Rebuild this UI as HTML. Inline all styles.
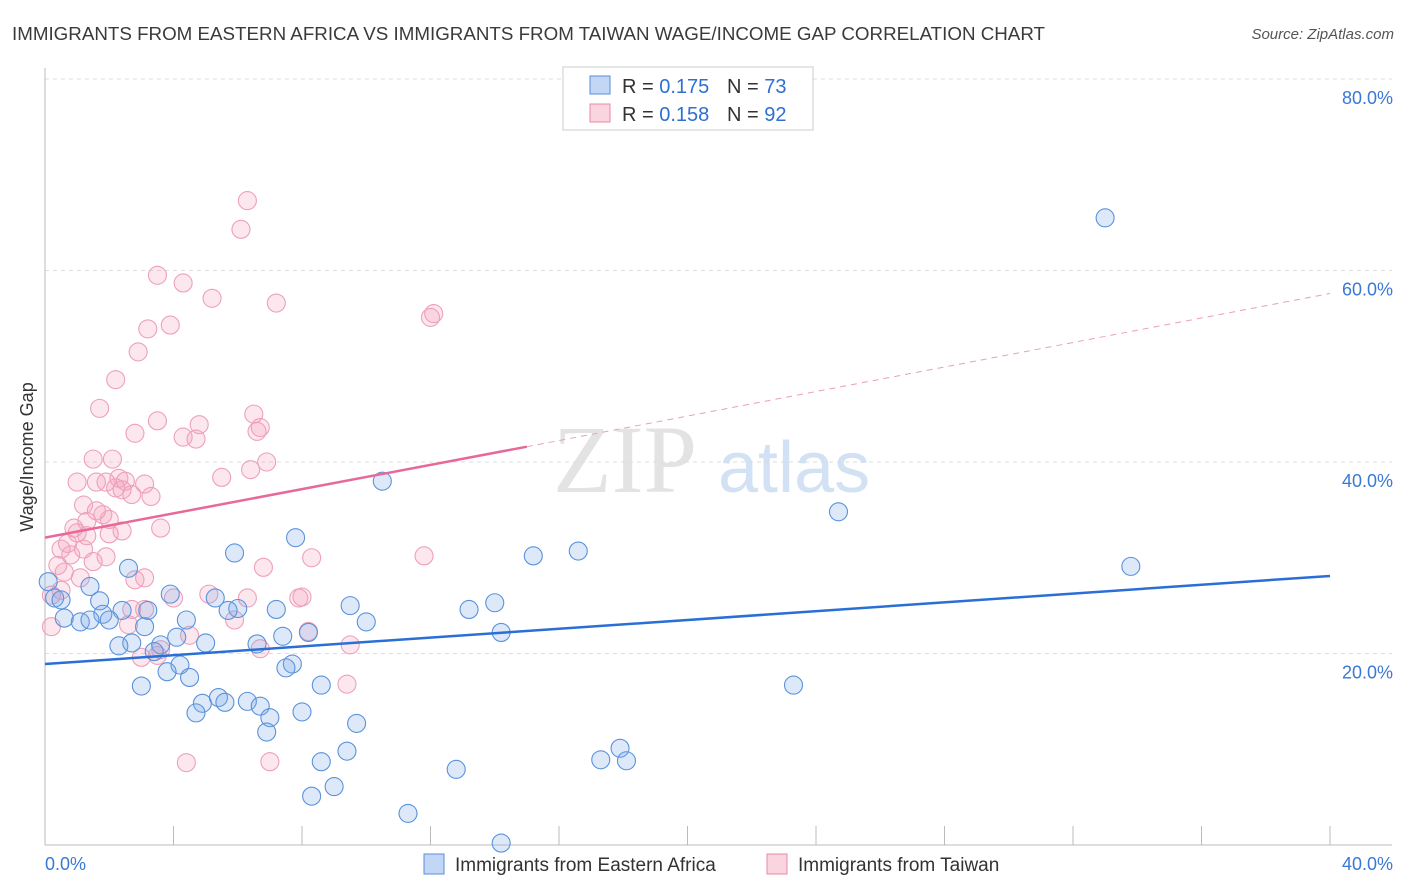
<!DOCTYPE html>
<html><head><meta charset="utf-8">
<style>
body{margin:0;background:#fff;font-family:"Liberation Sans",sans-serif;}
svg{display:block}
</style></head>
<body>
<svg id="chart" width="1406" height="892" xmlns="http://www.w3.org/2000/svg">
<text x="12" y="40" font-size="18" fill="#3a3a3a" textLength="1033" lengthAdjust="spacingAndGlyphs">IMMIGRANTS FROM EASTERN AFRICA VS IMMIGRANTS FROM TAIWAN WAGE/INCOME GAP CORRELATION CHART</text>
<text x="1394" y="39" font-size="15" fill="#555" text-anchor="end" font-style="italic">Source: ZipAtlas.com</text>
<g id="grid"></g>
<text x="553" y="492" font-size="96" fill="#ddd" font-family="Liberation Serif" opacity="0.8">ZIP</text>
<text x="718" y="492" font-size="72" fill="#c9daf2" opacity="0.8">atlas</text>
<g id="marks"></g>
<text transform="translate(33,457) rotate(-90)" font-size="18" fill="#333" text-anchor="middle">Wage/Income Gap</text>
<g>
<rect x="563" y="67" width="250" height="63" fill="#fff" stroke="#ccc"/>
<rect x="590" y="76" width="20" height="18" fill="rgba(120,165,235,0.45)" stroke="#5a8fd8"/>
<text x="622" y="93" font-size="20" fill="#333">R = <tspan fill="#2f6fd1">0.175</tspan></text>
<text x="727" y="93" font-size="20" fill="#333">N = <tspan fill="#2f6fd1">73</tspan></text>
<rect x="590" y="104" width="20" height="18" fill="rgba(245,160,185,0.45)" stroke="#e98aa8"/>
<text x="622" y="121" font-size="20" fill="#333">R = <tspan fill="#2f6fd1">0.158</tspan></text>
<text x="727" y="121" font-size="20" fill="#333">N = <tspan fill="#2f6fd1">92</tspan></text>
</g>
<g>
<rect x="424" y="854" width="20" height="20" fill="rgba(120,165,235,0.45)" stroke="#5a8fd8"/>
<text x="455" y="871" font-size="19" fill="#333">Immigrants from Eastern Africa</text>
<rect x="767" y="854" width="20" height="20" fill="rgba(245,160,185,0.45)" stroke="#e98aa8"/>
<text x="798" y="871" font-size="19" fill="#333">Immigrants from Taiwan</text>
</g>
</svg>
<script>
const xTicks=[0,40];
const yTicks=[20,40,60,80];
const blueX=[33.0,24.7,33.8,10.5,16.6,15.2,7.8,5.9,2.6,1.4,0.1,0.3,0.5,1.7,3.9,5.3,6.0,5.7,7.2,9.5,10.0,13.2,14.0,14.2,3.2,2.4,1.8,0.6,1.1,1.4,2.0,3.1,4.4,4.1,2.7,2.3,3.6,3.4,5.0,7.4,6.6,8.2,4.2,3.8,4.5,3.0,7.7,7.5,8.6,23.3,4.9,5.4,5.6,6.3,6.7,4.7,7.0,8.0,9.7,6.9,9.4,8.6,12.8,17.3,17.9,18.1,9.0,8.3,11.3,14.2];
const blueY=[65.5,34.8,29.1,38.0,30.7,30.2,32.1,30.5,28.9,27.0,27.5,25.8,25.6,25.5,26.2,25.8,24.7,24.5,24.6,25.0,23.3,24.6,25.3,22.2,24.5,24.5,24.1,23.7,23.3,23.5,23.5,22.8,23.5,21.7,21.1,20.8,20.9,20.2,21.1,21.8,21.0,22.2,18.8,18.1,17.5,16.6,18.9,18.5,16.7,16.7,14.8,15.4,14.9,15.0,14.5,13.8,13.3,13.9,12.7,11.8,9.8,8.7,7.9,8.9,10.1,8.8,6.1,5.1,3.3,0.2];
const pinkX=[6.3,6.1,3.5,4.3,5.2,7.2,12.1,12.0,3.9,3.2,2.9,2.2,1.7,3.5,6.5,4.8,6.7,6.6,2.8,4.3,4.7,1.5,2.1,6.9,6.4,5.5,1.0,1.6,1.9,2.3,2.5,3.1,2.2,2.4,2.7,3.3,1.2,1.6,1.8,2.0,1.3,3.6,0.9,1.0,2.4,2.0,1.3,0.7,0.5,1.2,0.8,1.9,8.3,11.8,0.4,0.6,1.5,6.8,1.1,3.1,2.8,0.2,0.5,5.1,6.3,7.9,8.0,4.0,2.7,3.1,5.9,2.6,0.2,8.2,4.5,9.5,6.7,3.5,3.0,3.6,9.4,4.4,7.0];
const pinkY=[67.3,64.3,59.5,58.7,57.1,56.6,55.5,55.1,54.3,53.9,51.5,48.6,45.6,44.3,45.0,43.9,43.6,43.2,43.0,42.6,42.4,40.3,40.3,40.0,39.2,38.4,37.9,37.9,37.9,38.3,38.0,37.7,37.3,37.1,36.6,36.4,35.5,34.9,34.5,34.0,33.8,33.1,33.1,32.6,32.8,32.5,32.3,31.5,30.9,30.9,30.3,30.1,30.0,30.2,29.2,28.5,29.6,29.0,27.9,27.9,27.7,26.1,26.6,26.2,25.8,25.8,25.9,25.8,24.6,24.6,23.5,23.0,22.8,22.3,21.9,20.9,20.5,19.8,19.6,20.4,16.8,8.6,8.7];
const blueTrend=[[0,18.9],[40,28.1]];
const pinkTrend=[[0,32.1],[15,41.6]];
const pinkTrendExt=[[15,41.6],[40,57.6]];
const X=v=>45+v*(1285/40);
const Y=v=>845-v*(191.5/20);
const NS="http://www.w3.org/2000/svg";
const grid=document.getElementById('grid');
const marks=document.getElementById('marks');
function mk(tag,attrs,parent){const e=document.createElementNS(NS,tag);for(const k in attrs)e.setAttribute(k,attrs[k]);parent.appendChild(e);return e;}
yTicks.forEach(t=>{
  const l=mk('line',{x1:45,x2:1392,y1:Y(t),y2:Y(t),stroke:'#ddd','stroke-dasharray':'4,4'},grid);
  
  
  const tx=mk('text',{x:1393,y:Y(t)+25,'font-size':18,fill:'#3a78d4','text-anchor':'end'},grid);
  tx.textContent=t.toFixed(1)+'%';
  
  
});
const ax=mk('line',{x1:45,x2:45,y1:68,y2:845,stroke:'#bbb'},grid);


const bx=mk('line',{x1:45,x2:1392,y1:845,y2:845,stroke:'#bbb'},grid);


for(let i=0;i<=10;i++){
  const xv=i*4;
  const tk=mk('line',{x1:X(xv),x2:X(xv),y1:826,y2:845,stroke:'#bbb'},grid);
  
  
}
xTicks.forEach((t,i)=>{
  const tx=mk('text',{x:i==0?45:1393,y:870,'font-size':18,fill:'#3a78d4','text-anchor':i==0?'start':'end'},grid);
  tx.textContent=t.toFixed(1)+'%';
  
  
});
pinkX.forEach((v,i)=>{
  const c=mk('circle',{cx:X(v),cy:Y(pinkY[i]),r:9,fill:'rgba(245,160,188,0.25)',stroke:'#eea0b9','stroke-width':1.1},marks);
  
  
});
blueX.forEach((v,i)=>{
  const c=mk('circle',{cx:X(v),cy:Y(blueY[i]),r:9,fill:'rgba(120,168,232,0.25)',stroke:'#5a92dc','stroke-width':1.1},marks);
  
  
});
let l1=mk('line',{x1:X(blueTrend[0][0]),y1:Y(blueTrend[0][1]),x2:X(blueTrend[1][0]),y2:Y(blueTrend[1][1]),stroke:'#2a6fd6','stroke-width':2.5},marks);


let l2=mk('line',{x1:X(pinkTrend[0][0]),y1:Y(pinkTrend[0][1]),x2:X(pinkTrend[1][0]),y2:Y(pinkTrend[1][1]),stroke:'#e8689a','stroke-width':2.5},marks);


let l3=mk('line',{x1:X(pinkTrendExt[0][0]),y1:Y(pinkTrendExt[0][1]),x2:X(pinkTrendExt[1][0]),y2:Y(pinkTrendExt[1][1]),stroke:'#e8a0b8','stroke-width':1,'stroke-dasharray':'6,5'},marks);


</script>
</body></html>
